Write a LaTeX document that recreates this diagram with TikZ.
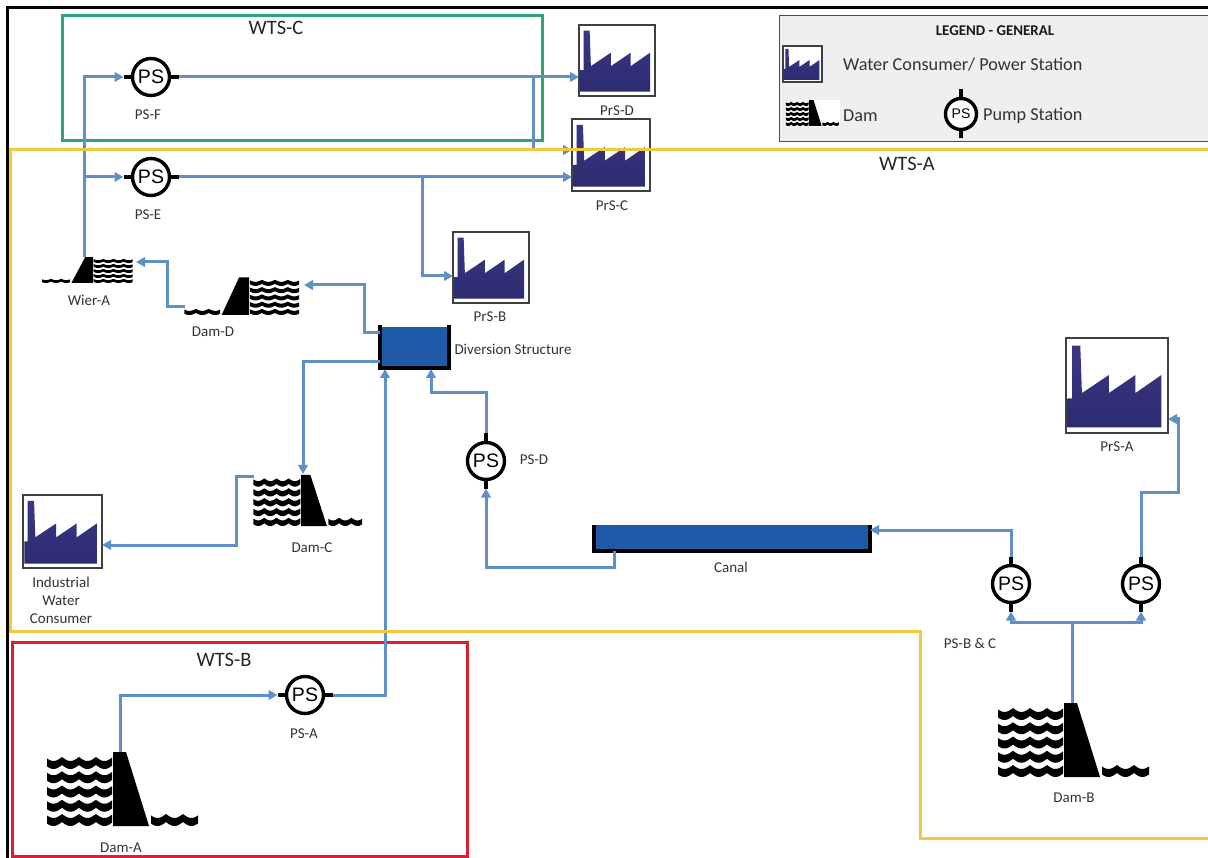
\documentclass[tikz,border=0pt]{standalone}
\usepackage{fontspec}
\setmainfont{Carlito}
\newfontfamily\psfont{Liberation Sans}
\usetikzlibrary{arrows.meta,calc}

\definecolor{pipeblue}{HTML}{5F8FC6}
\definecolor{basinblue}{HTML}{1F5AA8}
\definecolor{facTop}{HTML}{3A3785}
\definecolor{facBot}{HTML}{2D2B70}
\definecolor{wtsgreen}{HTML}{2FA572}
\definecolor{wtsyellow}{HTML}{F0C93F}
\definecolor{wtsred}{HTML}{DE1F2B}
\definecolor{legendgrey}{HTML}{EFEFEF}

% one row of water, filled so that it scales with the dam
\newcommand{\damwave}[3]{%
  \fill plot[domain=#1:#2,samples=70] (\x,{#3-5.5+4*abs(sin(10.6*(\x-(#1)+2)))})
     -- plot[domain=#2:#1,samples=70] (\x,{#3+2.5+4*abs(sin(10.6*(\x-(#1)+2)))}) -- cycle;}

\tikzset{
  pipeline/.style={draw=pipeblue,line width=3pt},
  flow/.style={pipeline,->},
  topump/.style={flow,shorten >=9pt},
  pumpstn/.style={circle,draw=black,fill=white,line width=3.4pt,minimum size=37pt,inner sep=0pt,outer sep=0pt,
    font=\psfont\fontsize{19.5}{22}\selectfont},
  stub/.style={line width=4pt,black},
  factorybox/.style={rectangle,draw=black!75,fill=white,line width=1.6pt,inner sep=0pt,outer sep=0pt},
  basin/.style={rectangle,fill=basinblue,inner sep=0pt,outer sep=0pt},
  wall/.style={line width=3.4pt,black},
  tag/.style={font=\fontsize{15}{18}\selectfont,text=black!80,inner sep=0pt,yshift=-1pt},
  wts/.style={font=\fontsize{20.5}{24}\selectfont,text=black!85,inner sep=0pt,yshift=-1pt},
  legendtxt/.style={font=\fontsize{18.2}{22}\selectfont,text=black!80,inner sep=0pt,anchor=west,yshift=-1.5pt},
  zone/.style={line width=3pt},
  factorysil/.pic={
    \shade[top color=facTop,bottom color=facBot] (0.016,0.94) -- (0.016,0.636) -- (0.06,0.636) -- (0.06,0.08) -- (0.14,0.08)
      -- (0.156,0.58) -- (0.42,0.39) -- (0.42,0.58) -- (0.68,0.39) -- (0.68,0.58) -- (0.935,0.39) -- (0.935,0.94) -- cycle;
  },
  damshape/.pic={
    \fill[black] (0,0) -- (0,-74) -- (13,-74) -- (36,0) -- cycle;
    \foreach \r in {-6.5,-20.75,-35,-49.25,-63.5} {\damwave{-66}{-1}{\r}}
    \damwave{38}{85}{-6.5}
  }
}

\begin{document}
\begin{tikzpicture}[>={Triangle[length=9pt,width=9.5pt]},x=1pt,y=-1pt,line join=miter]
  \useasboundingbox (0,0) rectangle (1208,858);

  % --- zones behind the pipes ---
  \draw[zone,wtsgreen] (62,16) rectangle (542,141);
  \draw[zone,wtsred] (12,642) rectangle (467,856);

  % --- legend ---
  \node[rectangle,draw=black!70,fill=legendgrey,line width=1pt,minimum width=432pt,minimum height=126pt,inner sep=0pt] (legend) at (995,79) {};
  \node[font=\bfseries\fontsize{14.9}{18}\selectfont,text=black!90,inner sep=0pt] (legendtitle) at (995,31) {LEGEND - GENERAL};
  \node[legendtxt] (legendfac) at (843,63) {Water Consumer/ Power Station};
  \node[legendtxt] (legenddam) at (843,114) {Dam};
  \node[legendtxt] (legendps) at (983,114) {Pump Station};
  \fill[white] (809,100) rectangle (840,127);
  \pic[xscale=.35,yscale=.35] at (809,126) {damshape};
  \node[pumpstn,minimum size=31pt,font=\psfont\fontsize{14}{16}\selectfont] (PSL) at (961,114) {PS};
  \draw[stub] (PSL.north) -- ++(0,-9);
  \draw[stub] (PSL.south) -- ++(0,9);

  % --- consumers and power stations ---
  \foreach \n/\cx/\cy/\w/\h in {PrSD/617/60.5/76/71,PrSC/611/155/78/72,PrSB/491/267.5/76/71,
      PrSA/1117/385.5/102/95,IWC/62.5/531.5/79/73,FacL/802.5/64/39/36} {
    \node[factorybox,minimum width=\w pt,minimum height=\h pt] (\n) at (\cx,\cy) {};
    \pic[xscale=\w,yscale=\h] at (\n.north west) {factorysil};
  }

  % --- dams ---
  \pic at (113,826) {damshape};
  \pic at (1064,777) {damshape};
  \pic[xscale=.72,yscale=.69] at (301,526) {damshape};
  \pic[xscale=-.76,yscale=.51] at (249,315) {damshape};
  \pic[xscale=-.6,yscale=.35] at (93,283) {damshape};
  \coordinate (damAcrest) at (120,752);
  \coordinate (damBcrest) at (1072,703);
  \coordinate (damCin) at (303,474);
  \coordinate (damCout) at (254,477);
  \coordinate (damDin) at (304,285);
  \coordinate (damDout) at (185,307);
  \coordinate (wierIn) at (136,262);
  \coordinate (wierCrest) at (84,257);

  % --- diversion structure and canal ---
  \node[basin,minimum width=69pt,minimum height=41pt] (divert) at (414.5,347.5) {};
  \draw[wall] ($(divert.north west)+(0,-2)$) |- (divert.south east) -- ++(0,-43);
  \node[basin,minimum width=276pt,minimum height=26pt] (canal) at (732,538) {};
  \draw[wall] (canal.north west) |- (canal.south east) -- (canal.north east);

  % --- pump stations ---
  \node[pumpstn] (PSF) at (151,77) {PS};
  \node[pumpstn] (PSE) at (151,177) {PS};
  \node[pumpstn] (PSA) at (305,695) {PS};
  \node[pumpstn] (PSD) at (486,461) {PS};
  \node[pumpstn] (PSB) at (1011,584) {PS};
  \node[pumpstn] (PSC) at (1141,584) {PS};

  % --- pipes ---
  \coordinate (jctE) at (wierCrest|-PSE);
  \coordinate (jctC) at (533,77);
  \coordinate (inC) at (572,150);
  \coordinate (jctB) at (422,177);
  \coordinate (divA) at (385,369);
  \coordinate (divD) at (431,369);
  \coordinate (divW) at (380,333);
  \coordinate (divS) at (380,362);
  \coordinate (canalOut) at (614,551);
  \coordinate (canalIn) at (870,530);
  \coordinate (inA) at (1168,419);
  \coordinate (jctBC) at (1072,622);
  \draw[topump] (wierCrest) |- (PSF.west);
  \draw[topump] (jctE) -- (PSE.west);
  \draw[flow] (PSF.east) -- (PSF.east-|PrSD.west);
  \draw[flow] (jctC) |- (inC);
  \draw[flow] (PSE.east) -- (PSE.east-|PrSC.west);
  \draw[flow] (jctB) |- (PrSB.west|-0,276);
  \draw[flow] (divW) -| (364,285) -- (damDin);
  \draw[flow] (damDout) -| (167,262) -- (wierIn);
  \draw[flow] (divS) -| (damCin);
  \draw[flow] (damCout) -| (236,545) -- (IWC.east|-0,545);
  \draw[flow] (PSD.north) |- (431,393) -- (divD);
  \draw[topump] (canalOut) |- (486,567) -- (PSD.south);
  \draw[topump] (damAcrest) |- (PSA.west);
  \draw[flow] (PSA.east) -| (divA);
  \draw[flow] (PSB.north) |- (canalIn);
  \draw[flow] (PSC.north) |- (1178,492) |- (inA);
  \draw[pipeline] (damBcrest) -- (jctBC);
  \draw[topump] (jctBC) -| (PSB.south);
  \draw[topump] (jctBC) -| (PSC.south);

  % --- pump stubs sit on top of the pipes ---
  \foreach \n in {PSF,PSE,PSA} {
    \draw[stub] (\n.west) -- ++(-9,0);
    \draw[stub] (\n.east) -- ++(9,0);
  }
  \foreach \n in {PSD,PSB,PSC} {
    \draw[stub] (\n.north) -- ++(0,-9);
    \draw[stub] (\n.south) -- ++(0,9);
  }

  % --- WTS-A goes over the stations ---
  \draw[zone,wtsyellow] (1208,150) -- (10,150) -- (10,631) -- (920,631) -- (920,838) -- (1208,838);

  % --- labels ---
  \node[wts] (wtsC) at (276,27) {WTS-C};
  \node[wts] (wtsA) at (907,163) {WTS-A};
  \node[wts] (wtsB) at (224,659) {WTS-B};
  \node[tag] (lPSF) at (148,114) {PS-F};
  \node[tag] (lPSE) at (148,214) {PS-E};
  \node[tag] (lPSA) at (304,733) {PS-A};
  \node[tag] (lPSD) at (534,459) {PS-D};
  \node[tag] (lPSBC) at (970,642) {PS-B \& C};
  \node[tag] (lWier) at (89,299) {Wier-A};
  \node[tag] (lDamD) at (213,331) {Dam-D};
  \node[tag] (lDamC) at (312,547) {Dam-C};
  \node[tag] (lDamA) at (121,847) {Dam-A};
  \node[tag] (lDamB) at (1074,797) {Dam-B};
  \node[tag] (lPrSD) at (617,110) {PrS-D};
  \node[tag] (lPrSC) at (612,205) {PrS-C};
  \node[tag] (lPrSB) at (490,316) {PrS-B};
  \node[tag] (lPrSA) at (1117,446) {PrS-A};
  \node[tag] (lDivert) at (513,348) {Diversion Structure};
  \node[tag] (lCanal) at (731,566) {Canal};
  \node[tag,align=center,font=\fontsize{15}{18}\selectfont] (lIWC) at (61,599) {Industrial\\Water\\Consumer};

  % --- frame ---
  \draw[line width=3.4pt,black] (1208,7.5) -- (7.5,7.5) -- (7.5,858);
\end{tikzpicture}
\end{document}
